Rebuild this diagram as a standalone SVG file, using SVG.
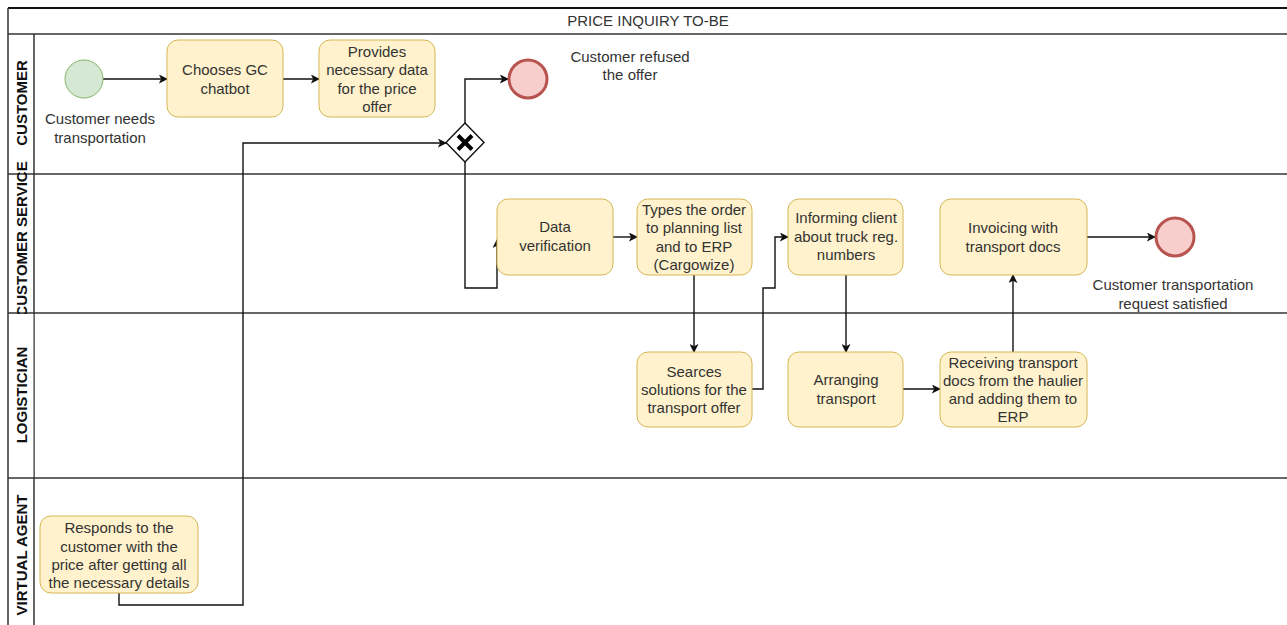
<svg xmlns="http://www.w3.org/2000/svg" width="1287" height="625" viewBox="0 0 1287 625">
  <style>
    .lane { fill: none; stroke: #333333; stroke-width: 1.5; }
    .task { fill: #fff2cc; stroke: #d6b656; stroke-width: 1; }
    .txt { font-family: "Liberation Sans", Arial, sans-serif; font-size: 15px; fill: #333333; text-anchor: middle; }
    .lbl { font-family: "Liberation Sans", Arial, sans-serif; font-size: 15px; font-weight: bold; fill: #111111; text-anchor: middle; dominant-baseline: central; }
    .edge { fill: none; stroke: #111111; stroke-width: 1.4; }
    .start { fill: #d5e8d4; stroke: #82b366; stroke-width: 1; }
    .end { fill: #f8cecc; stroke: #b85450; stroke-width: 3; }
  </style>
  <defs>
    <marker id="arrow" viewBox="0 0 10 10" refX="9" refY="5" markerWidth="9" markerHeight="9" markerUnits="userSpaceOnUse" orient="auto">
      <path d="M0,0 L10,5 L0,10 L2.5,5 Z" fill="#111111"/>
    </marker>
  </defs>

  <rect width="1287" height="625" fill="#ffffff"/>

  <!-- pool and lanes -->
  <g id="pool">
    <line x1="8" y1="8" x2="1290" y2="8" stroke="#111111" stroke-width="2"/>
    <line x1="8" y1="8" x2="8" y2="630" class="lane"/>
    <line x1="8" y1="34" x2="1290" y2="34" class="lane"/>
    <line x1="34" y1="34" x2="34" y2="630" class="lane"/>
    <line x1="8" y1="174" x2="1290" y2="174" class="lane"/>
    <line x1="8" y1="313" x2="1290" y2="313" class="lane"/>
    <line x1="8" y1="478" x2="1290" y2="478" class="lane"/>
    <text class="txt" x="648" y="26">PRICE INQUIRY TO-BE</text>
  </g>
  <g id="lane-customer">
    <text class="lbl" transform="translate(21,103) rotate(-90)">CUSTOMER</text>
  </g>
  <g id="lane-customer-service">
    <text class="lbl" transform="translate(21,239) rotate(-90)">CUSTOMER SERVICE</text>
  </g>
  <g id="lane-logistician">
    <rect x="9" y="314" width="24.3" height="163" fill="#ffffff"/>
    <text class="lbl" transform="translate(21,395) rotate(-90)">LOGISTICIAN</text>
  </g>
  <g id="lane-virtual-agent">
    <text class="lbl" transform="translate(21,555) rotate(-90)">VIRTUAL AGENT</text>
  </g>

  <!-- connectors -->
  <g id="connectors">
    <path class="edge" d="M103,79 H167" marker-end="url(#arrow)"/>
    <path class="edge" d="M283,79 H319" marker-end="url(#arrow)"/>
    <path class="edge" d="M119,593 V605 H243 V143 H446" marker-end="url(#arrow)"/>
    <path class="edge" d="M465,123 V79 H508" marker-end="url(#arrow)"/>
    <path class="edge" d="M465,162 V288 H497 V240" marker-end="url(#arrow)"/>
    <path class="edge" d="M613,237 H637" marker-end="url(#arrow)"/>
    <path class="edge" d="M694,275 V352" marker-end="url(#arrow)"/>
    <path class="edge" d="M752,389 H763 V288 H775 V237 H788" marker-end="url(#arrow)"/>
    <path class="edge" d="M846,275 V352" marker-end="url(#arrow)"/>
    <path class="edge" d="M903,389 H940" marker-end="url(#arrow)"/>
    <path class="edge" d="M1013,352 V275" marker-end="url(#arrow)"/>
    <path class="edge" d="M1087,237 H1155" marker-end="url(#arrow)"/>
  </g>

  <!-- events -->
  <g id="start-event">
    <circle class="start" cx="84" cy="79" r="19"/>
    <text class="txt" x="100" y="124">Customer needs</text>
    <text class="txt" x="100" y="143">transportation</text>
  </g>
  <g id="end-refused">
    <circle class="end" cx="528" cy="79" r="19"/>
    <text class="txt" x="630" y="62">Customer refused</text>
    <text class="txt" x="630" y="80">the offer</text>
  </g>
  <g id="end-satisfied">
    <circle class="end" cx="1175" cy="237" r="19"/>
    <text class="txt" x="1173" y="290">Customer transportation</text>
    <text class="txt" x="1173" y="309">request satisfied</text>
  </g>

  <!-- gateway -->
  <g id="gateway">
    <path d="M465,123 L484,142.5 L465,162 L446,142.5 Z" fill="#ffffff" stroke="#111111" stroke-width="1.4"/>
    <path d="M458,135.5 L472,149.5 M472,135.5 L458,149.5" stroke="#000000" stroke-width="4" stroke-linecap="butt"/>
  </g>

  <!-- tasks -->
  <g id="task-chooses">
    <rect class="task" x="167" y="40" width="116" height="77" rx="11"/>
    <text class="txt" x="225" y="75">Chooses GC</text>
    <text class="txt" x="225" y="94">chatbot</text>
  </g>
  <g id="task-provides">
    <rect class="task" x="319" y="40" width="116" height="77" rx="11"/>
    <text class="txt" x="377" y="57">Provides</text>
    <text class="txt" x="377" y="75">necessary data</text>
    <text class="txt" x="377" y="94">for the price</text>
    <text class="txt" x="377" y="112">offer</text>
  </g>
  <g id="task-data-verification">
    <rect class="task" x="497" y="199" width="116" height="76" rx="11"/>
    <text class="txt" x="555" y="232">Data</text>
    <text class="txt" x="555" y="251">verification</text>
  </g>
  <g id="task-types-order">
    <rect class="task" x="637" y="199" width="115" height="76" rx="11"/>
    <text class="txt" x="694" y="215">Types the order</text>
    <text class="txt" x="694" y="233">to planning list</text>
    <text class="txt" x="694" y="252">and to ERP</text>
    <text class="txt" x="694" y="270">(Cargowize)</text>
  </g>
  <g id="task-searces">
    <rect class="task" x="637" y="352" width="115" height="75" rx="11"/>
    <text class="txt" x="694" y="377">Searces</text>
    <text class="txt" x="694" y="395">solutions for the</text>
    <text class="txt" x="694" y="413">transport offer</text>
  </g>
  <g id="task-informing">
    <rect class="task" x="788" y="199" width="115" height="76" rx="11"/>
    <text class="txt" x="846" y="223">Informing client</text>
    <text class="txt" x="846" y="242">about truck reg.</text>
    <text class="txt" x="846" y="260">numbers</text>
  </g>
  <g id="task-arranging">
    <rect class="task" x="788" y="352" width="115" height="75" rx="11"/>
    <text class="txt" x="846" y="385">Arranging</text>
    <text class="txt" x="846" y="404">transport</text>
  </g>
  <g id="task-receiving">
    <rect class="task" x="940" y="352" width="147" height="75" rx="11"/>
    <text class="txt" x="1013" y="368">Receiving transport</text>
    <text class="txt" x="1013" y="386">docs from the haulier</text>
    <text class="txt" x="1013" y="404">and adding them to</text>
    <text class="txt" x="1013" y="422">ERP</text>
  </g>
  <g id="task-invoicing">
    <rect class="task" x="940" y="199" width="147" height="76" rx="11"/>
    <text class="txt" x="1013" y="233">Invoicing with</text>
    <text class="txt" x="1013" y="252">transport docs</text>
  </g>
  <g id="task-responds">
    <rect class="task" x="40" y="516" width="158" height="77" rx="11"/>
    <text class="txt" x="119" y="533">Responds to the</text>
    <text class="txt" x="119" y="552">customer with the</text>
    <text class="txt" x="119" y="570">price after getting all</text>
    <text class="txt" x="119" y="588">the necessary details</text>
  </g>
</svg>
